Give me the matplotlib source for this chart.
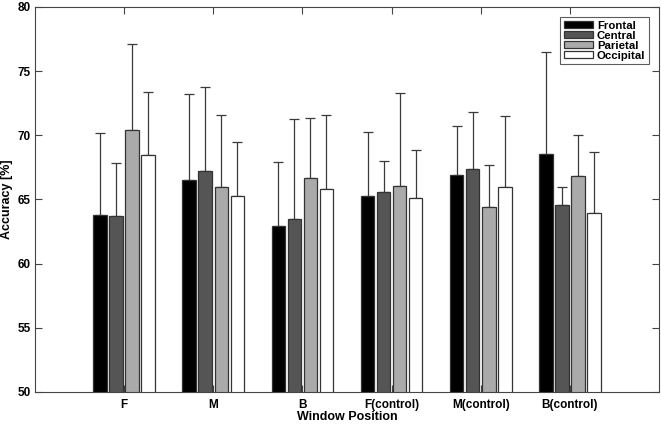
import numpy as np
import matplotlib
matplotlib.use('Agg')
import matplotlib.pyplot as plt

plt.rcParams['font.family'] = ['Liberation Sans', 'DejaVu Sans']
plt.rcParams['font.weight'] = 'bold'

POSITIONS = ['F', 'M', 'B', 'F(control)', 'M(control)', 'B(control)']
REGIONS = ['Frontal', 'Central', 'Parietal', 'Occipital']
COLORS = ['#000000', '#555555', '#aaaaaa', '#ffffff']

# mean accuracy per region, one value per window position
frontal = [63.8, 66.55, 62.95, 65.3, 66.9, 68.55]
central = [63.7, 67.2, 63.5, 65.6, 67.35, 64.55]
parietal = [70.45, 66.0, 66.65, 66.05, 64.45, 66.8]
occipital = [68.45, 65.3, 65.8, 65.15, 66.0, 63.95]

# upper error bar (std)
frontal_err = [6.4, 6.65, 5.0, 4.95, 3.8, 7.95]
central_err = [4.15, 6.55, 7.75, 2.4, 4.45, 1.45]
parietal_err = [6.65, 5.55, 4.7, 7.25, 3.25, 3.2]
occipital_err = [4.95, 4.2, 5.75, 3.7, 5.5, 4.75]

means = [frontal, central, parietal, occipital]
errs = [frontal_err, central_err, parietal_err, occipital_err]

x = np.arange(1, len(POSITIONS) + 1)
step = 0.18
bar_width = 0.152

fig = plt.figure(figsize=(6.61, 4.26), dpi=100)
ax = fig.add_axes([35 / 661, 1 - 392 / 426, 624 / 661, 385 / 426])

for i, (vals, err) in enumerate(zip(means, errs)):
    pos = x + (i - 1.5) * step
    ax.bar(pos, vals, bar_width, bottom=0, color=COLORS[i], edgecolor='#333333',
           linewidth=0.9, label=REGIONS[i], zorder=2)
    ax.errorbar(pos, vals, yerr=[np.zeros(len(err)), err], fmt='none',
                ecolor='#3a3a3a', elinewidth=0.9, capsize=3.5, capthick=0.9, zorder=1)

ax.set_xlim(0, 7)
ax.set_ylim(50, 80)
ax.set_xticks(x)
ax.set_xticklabels(POSITIONS, fontsize=8.5, fontweight='bold')
ax.set_yticks(np.arange(50, 81, 5))
ax.set_yticklabels([str(v) for v in range(50, 81, 5)], fontsize=8.5, fontweight='bold')
ax.tick_params(direction='in', top=True, right=True, length=5, width=0.8, color='#444444')
ax.tick_params(axis='x', pad=5)
ax.tick_params(axis='y', pad=3)
for spine in ax.spines.values():
    spine.set_color('#444444')
    spine.set_linewidth(0.8)

ax.set_ylabel('Accuracy [%]', fontsize=9, fontweight='bold', labelpad=3)
ax.set_xlabel('Window Position', fontsize=9, fontweight='bold', labelpad=0)

leg = ax.legend(loc='upper right', fontsize=8.2, frameon=True, fancybox=False,
                handlelength=2.6, handleheight=0.65, handletextpad=0.3,
                labelspacing=0.0, borderpad=0.3, borderaxespad=0.9)
leg.get_frame().set_edgecolor('#333333')
leg.get_frame().set_linewidth(0.8)
for t in leg.get_texts():
    t.set_fontweight('bold')

fig.savefig('out.png', dpi=100)
